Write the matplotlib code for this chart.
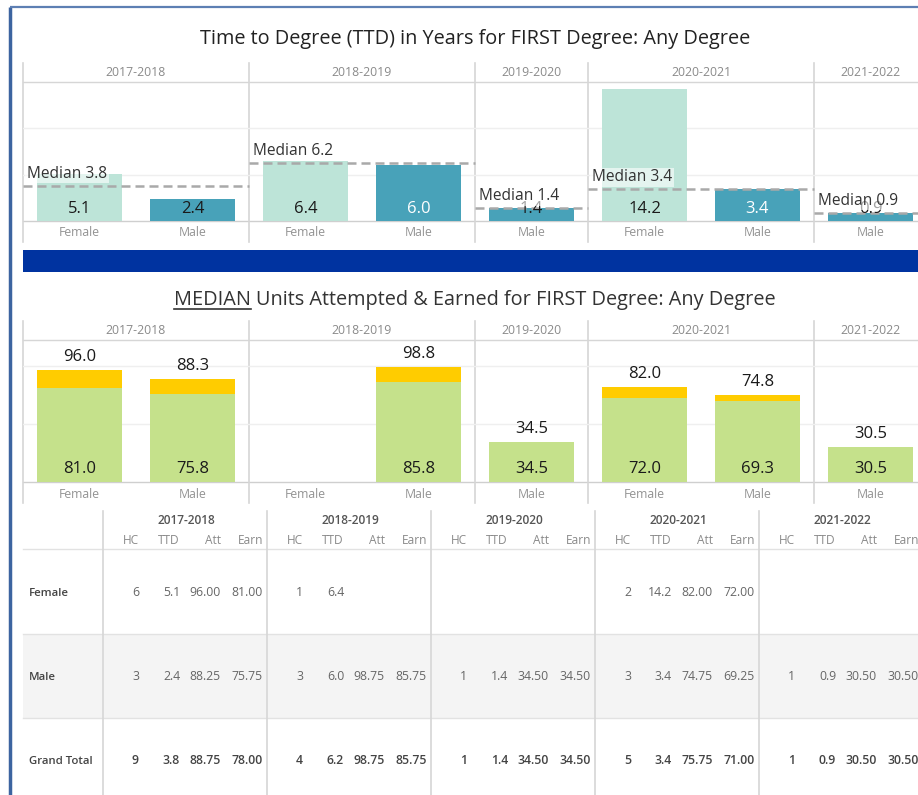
import matplotlib
matplotlib.use("Agg")
import matplotlib.pyplot as plt

plt.rcParams['font.family'] = ['Open Sans', 'DejaVu Sans']

years = ['2017-2018', '2018-2019', '2019-2020', '2020-2021', '2021-2022']
genders = ['Female', 'Male']
row_labels = ['Female', 'Male', 'Grand Total']

# table values per row (Female, Male, Grand Total) and per year; None = blank
hc = [[6, 1, None, 2, None],
      [3, 3, 1, 3, 1],
      [9, 4, 1, 5, 1]]
ttd = [[5.1, 6.4, None, 14.2, None],
       [2.4, 6.0, 1.4, 3.4, 0.9],
       [3.8, 6.2, 1.4, 3.4, 0.9]]
att = [[96.00, None, None, 82.00, None],
       [88.25, 98.75, 34.50, 74.75, 30.50],
       [88.75, 98.75, 34.50, 75.75, 30.50]]
earn = [[81.00, None, None, 72.00, None],
        [75.75, 85.75, 34.50, 69.25, 30.50],
        [78.00, 85.75, 34.50, 71.00, 30.50]]

W, H = 918, 795
fig = plt.figure(figsize=(W / 100, H / 100), dpi=100)

def px_axes(x0, y0, x1, y1, **kw):
    return fig.add_axes([x0 / W, 1 - y1 / H, (x1 - x0) / W, (y1 - y0) / H], **kw)

def r1(v):
    return f"{v + 1e-9:.1f}"

# overlay in pixel coordinates for frames, headers and table
ov = px_axes(0, 0, W, H)
ov.set_xlim(0, W)
ov.set_ylim(H, 0)
ov.axis('off')

# dashboard frame
ov.plot([10, 10], [7, H], color='#3c64a0', lw=2.5, solid_capstyle='butt')
ov.plot([10, W], [7, 7], color='#5d7fb3', lw=1.6, solid_capstyle='butt')

# bar slots: one per year/gender that has a head count
slots = []
for yi in range(len(years)):
    for gi, g in enumerate(genders):
        if hc[gi][yi] is not None:
            slots.append((yi, gi))
slot_w = 113
left = 23
right = left + slot_w * len(slots)
year_span = {}
for i, (yi, gi) in enumerate(slots):
    a, b = year_span.get(yi, (i, i))
    year_span[yi] = (min(a, i), max(b, i))

teal = ['#bde4d8', '#48a2b9']
green, yellow = '#c5e18b', '#ffcc00'
grid_c, sep_c = '#efefef', '#d6d6d6'


def panel(top, base, bottom, ymax):
    # headers and separators for a faceted bar pane
    ov.plot([left, right], [top + 19, top + 19], color=sep_c, lw=1)
    ov.plot([left, right], [base, base], color='#cfcfcf', lw=1)
    for yi, (a, b) in year_span.items():
        x0 = left + a * slot_w
        x1 = left + (b + 1) * slot_w
        ov.plot([x0, x0], [top, bottom], color=sep_c, lw=1.2)
        ov.text((x0 + x1) / 2, top + 10, years[yi], ha='center', va='center',
                fontsize=8.8, color='#8a8a8a')
    for i, (yi, gi) in enumerate(slots):
        ov.text(left + (i + 0.5) * slot_w, base + 12, genders[gi], ha='center',
                va='center', fontsize=8.8, color='#939393')
    ax = px_axes(left, top + 19, right, base, facecolor='none')
    ax.set_xlim(-0.5, len(slots) - 0.5)
    ax.set_ylim(0, ymax)
    ax.axis('off')
    return ax


# ---- chart 1: time to degree ----
ov.text(475, 39, 'Time to Degree (TTD) in Years for FIRST Degree: Any Degree',
        ha='center', va='center', fontsize=14.3, color='#222222')
ax1 = panel(63, 221, 242, 14.95)
for g in [5, 10]:
    ax1.axhline(g, color=grid_c, lw=1, zorder=0)
xs = list(range(len(slots)))
vals = [ttd[gi][yi] for yi, gi in slots]
cols = [teal[gi] for yi, gi in slots]
ax1.bar(xs, vals, width=0.75, color=cols, zorder=2)
for x, v, (yi, gi) in zip(xs, vals, slots):
    tc = 'white' if gi == 1 and v > 3 else '#1a1a1a'
    ax1.annotate(r1(v), (x, 0), xytext=(0, 12), textcoords='offset pixels',
                 ha='center', va='center', fontsize=12, color=tc, zorder=4)
for yi, (a, b) in year_span.items():
    m = ttd[2][yi]
    ax1.plot([a - 0.5, b + 0.5], [m, m], color='#a9a9a9', lw=1.8,
             linestyle=(0, (3.6, 2.0)), zorder=3)
    ax1.annotate(f'Median {r1(m)}', (a - 0.5, m), xytext=(4, 12),
                 textcoords='offset pixels', ha='left', va='center',
                 fontsize=11.2, color='#333333', zorder=5,
                 bbox=dict(boxstyle='square,pad=0.1', fc='white', ec='none', alpha=0.6))

# blue band
ov.add_patch(plt.Rectangle((23, 250), W - 23, 22, color='#0033a0', lw=0))

# ---- chart 2: units attempted & earned ----
title2 = 'MEDIAN Units Attempted & Earned for FIRST Degree: Any Degree'
t2 = ov.text(475, 300, title2, ha='center', va='center', fontsize=14.3, color='#333333')
# measure the underlined word, then drop the helper text
t3 = ov.text(0, 300, 'MEDIAN', ha='left', va='center', fontsize=14.3)
fig.canvas.draw()
inv = ov.transData.inverted()
bb = t2.get_window_extent().transformed(inv)
ub = t3.get_window_extent().transformed(inv)
t3.remove()
ov.plot([bb.x0, bb.x0 + (ub.x1 - ub.x0)], [309, 309], color='#333333', lw=1.2)

ax2 = panel(321, 482, 503, 122)
for g in [50, 100]:
    ax2.axhline(g, color=grid_c, lw=1, zorder=0)
for x, (yi, gi) in zip(xs, slots):
    a, e = att[gi][yi], earn[gi][yi]
    if a is None:
        continue
    ax2.bar(x, e, width=0.75, color=green, zorder=2)
    ax2.bar(x, a - e, bottom=e, width=0.75, color=yellow, zorder=2)
    ax2.annotate(r1(e), (x, 0), xytext=(0, 13), textcoords='offset pixels',
                 ha='center', va='center', fontsize=12, color='#1a1a1a', zorder=4)
    ax2.annotate(r1(a), (x, a), xytext=(0, 13), textcoords='offset pixels',
                 ha='center', va='center', fontsize=12, color='#1a1a1a', zorder=4)

# ---- table ----
tab_left, lab_w, grp_w = 23, 80, 164
row_y = [592, 676, 760]
ov.add_patch(plt.Rectangle((tab_left, 634), W - tab_left, 84, color='#f4f4f4', lw=0))
for y in [549, 634, 718]:
    ov.plot([tab_left, W], [y, y], color='#e2e2e2', lw=1)
g0 = tab_left + lab_w
col_names = ['HC', 'TTD', 'Att', 'Earn']
col_off = [36, 77, 118, 160]
for yi, yr in enumerate(years):
    gx = g0 + yi * grp_w
    ov.plot([gx, gx], [511, H], color='#d6d6d6', lw=1.2)
    ov.text(gx + grp_w / 2 + 1, 521, yr, ha='center', va='center',
            fontsize=8.6, color='#555555', fontweight='semibold')
    for cn, co in zip(col_names, col_off):
        ov.text(gx + co, 541, cn, ha='right', va='center', fontsize=8.6, color='#8a8a8a')
    for ri in range(3):
        cells = [hc[ri][yi], ttd[ri][yi], att[ri][yi], earn[ri][yi]]
        txt = [None if cells[0] is None else str(cells[0]),
               None if cells[1] is None else r1(cells[1]),
               None if cells[2] is None else f'{cells[2]:.2f}',
               None if cells[3] is None else f'{cells[3]:.2f}']
        bold = ri == 2
        for t, co in zip(txt, col_off):
            if t is not None:
                ov.text(gx + co, row_y[ri], t, ha='right', va='center', fontsize=8.8,
                        color='#444444' if bold else '#666666',
                        fontweight='semibold' if bold else 'normal')
for ri, lab in enumerate(row_labels):
    ov.text(29, row_y[ri] + 1, lab, ha='left', va='center', fontsize=8.2,
            color='#444444', fontweight='semibold')

fig.savefig('out.png', dpi=100)
